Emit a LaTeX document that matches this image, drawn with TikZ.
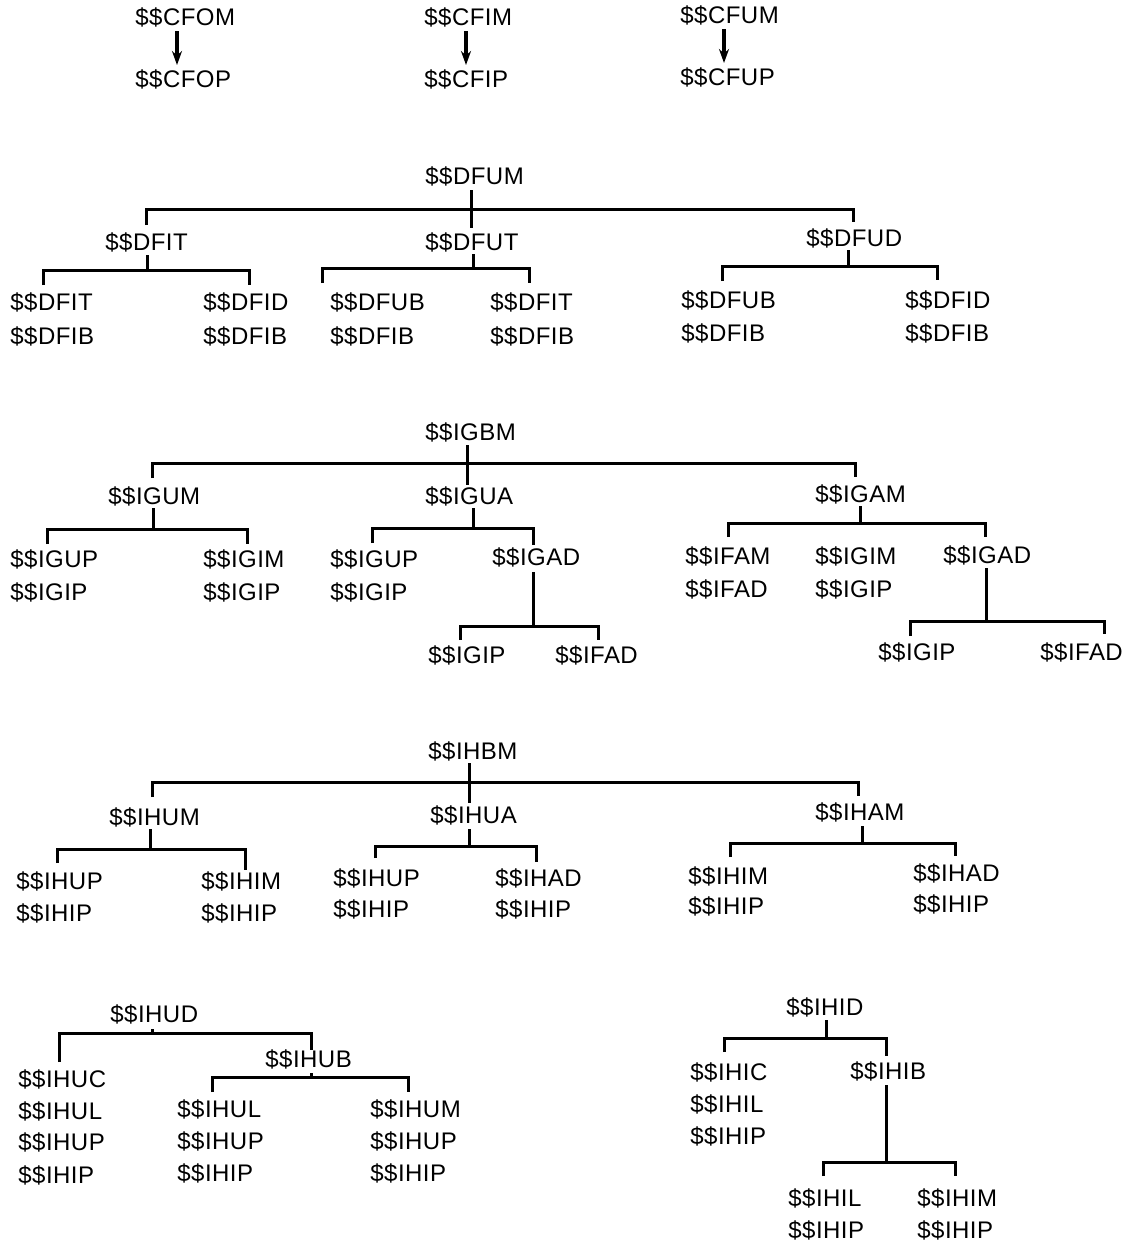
\documentclass[tikz,border=0pt]{standalone}
\usepackage{fontspec}
\setmainfont{Liberation Sans}[LetterSpace=2]
\usetikzlibrary{arrows.meta}
\begin{document}
\begin{tikzpicture}[x=0.5pt,y=-0.5pt,
  lbl/.style={anchor=west,inner sep=0pt,text height=8.6pt,text depth=0pt,
              font=\fontsize{12pt}{14pt}\selectfont},
  tree/.style={line width=1.5pt,line cap=butt,line join=miter},
  arr/.style={line width=1.6pt,-{Stealth[length=7pt,width=5pt]}}]
\useasboundingbox (0,0) rectangle (1137,1243);

% ---- call pairs ----
\node[lbl] (cfom) at (135,17) {\$\$CFOM};
\node[lbl] (cfop) at (135,79) {\$\$CFOP};
\node[lbl] (cfim) at (424,17) {\$\$CFIM};
\node[lbl] (cfip) at (424,79) {\$\$CFIP};
\node[lbl] (cfum) at (680,15) {\$\$CFUM};
\node[lbl] (cfup) at (680,77) {\$\$CFUP};
\draw[arr] (177,31) -- (177,65);
\draw[arr] (466,31) -- (466,65);
\draw[arr] (724,29) -- (724,63);

% ---- $$DFUM ----
\node[lbl] (dfum) at (425,176) {\$\$DFUM};
\node[lbl] (dfit) at (105,242) {\$\$DFIT};
\node[lbl] (dfut) at (425,242) {\$\$DFUT};
\node[lbl] (dfud) at (806,238) {\$\$DFUD};
\node[lbl] (d1a) at (10,302) {\$\$DFIT};
\node[lbl] (d1b) at (10,336) {\$\$DFIB};
\node[lbl] (d2a) at (203,302) {\$\$DFID};
\node[lbl] (d2b) at (203,336) {\$\$DFIB};
\node[lbl] (d3a) at (330,302) {\$\$DFUB};
\node[lbl] (d3b) at (330,336) {\$\$DFIB};
\node[lbl] (d4a) at (490,302) {\$\$DFIT};
\node[lbl] (d4b) at (490,336) {\$\$DFIB};
\node[lbl] (d5a) at (681,300) {\$\$DFUB};
\node[lbl] (d5b) at (681,333) {\$\$DFIB};
\node[lbl] (d6a) at (905,300) {\$\$DFID};
\node[lbl] (d6b) at (905,333) {\$\$DFIB};
\draw[tree] (471,190) -- (471,228);
\draw[tree] (146,225) |- (853,209) -- (853,222);
\draw[tree] (147,255) -- (147,270);
\draw[tree] (43,285) |- (249,270) -- (249,285);
\draw[tree] (473,254) -- (473,268);
\draw[tree] (322,283) |- (529,268) -- (529,283);
\draw[tree] (848,250) -- (848,266);
\draw[tree] (722,281) |- (937,266) -- (937,280);

% ---- $$IGBM ----
\node[lbl] (igbm) at (425,432) {\$\$IGBM};
\node[lbl] (igum) at (108,496) {\$\$IGUM};
\node[lbl] (igua) at (425,496) {\$\$IGUA};
\node[lbl] (igam) at (815,494) {\$\$IGAM};
\node[lbl] (g1a) at (10,559) {\$\$IGUP};
\node[lbl] (g1b) at (10,592) {\$\$IGIP};
\node[lbl] (g2a) at (203,559) {\$\$IGIM};
\node[lbl] (g2b) at (203,592) {\$\$IGIP};
\node[lbl] (g3a) at (330,559) {\$\$IGUP};
\node[lbl] (g3b) at (330,592) {\$\$IGIP};
\node[lbl] (igad) at (492,557) {\$\$IGAD};
\node[lbl] (g4) at (428,655) {\$\$IGIP};
\node[lbl] (g5) at (555,655) {\$\$IFAD};
\node[lbl] (g6a) at (685,556) {\$\$IFAM};
\node[lbl] (g6b) at (685,589) {\$\$IFAD};
\node[lbl] (g7a) at (815,556) {\$\$IGIM};
\node[lbl] (g7b) at (815,589) {\$\$IGIP};
\node[lbl] (igadb) at (943,555) {\$\$IGAD};
\node[lbl] (g8) at (878,652) {\$\$IGIP};
\node[lbl] (g9) at (1040,652) {\$\$IFAD};
\draw[tree] (467,445) -- (467,485);
\draw[tree] (152,478) |- (855,463) -- (855,477);
\draw[tree] (153,508) -- (153,529);
\draw[tree] (47,544) |- (247,529) -- (247,544);
\draw[tree] (473,508) -- (473,528);
\draw[tree] (372,543) |- (533,528) -- (533,545);
\draw[tree] (533,572) -- (533,626);
\draw[tree] (460,640) |- (598,626) -- (598,640);
\draw[tree] (860,506) -- (860,523);
\draw[tree] (728,537) |- (985,523) -- (985,537);
\draw[tree] (986,568) -- (986,621);
\draw[tree] (910,636) |- (1104,621) -- (1104,634);

% ---- $$IHBM ----
\node[lbl] (ihbm) at (428,751) {\$\$IHBM};
\node[lbl] (ihum) at (109,817) {\$\$IHUM};
\node[lbl] (ihua) at (430,815) {\$\$IHUA};
\node[lbl] (iham) at (815,812) {\$\$IHAM};
\node[lbl] (h1a) at (16,881) {\$\$IHUP};
\node[lbl] (h1b) at (16,913) {\$\$IHIP};
\node[lbl] (h2a) at (201,881) {\$\$IHIM};
\node[lbl] (h2b) at (201,913) {\$\$IHIP};
\node[lbl] (h3a) at (333,878) {\$\$IHUP};
\node[lbl] (h3b) at (333,909) {\$\$IHIP};
\node[lbl] (h4a) at (495,878) {\$\$IHAD};
\node[lbl] (h4b) at (495,909) {\$\$IHIP};
\node[lbl] (h5a) at (688,876) {\$\$IHIM};
\node[lbl] (h5b) at (688,906) {\$\$IHIP};
\node[lbl] (h6a) at (913,873) {\$\$IHAD};
\node[lbl] (h6b) at (913,904) {\$\$IHIP};
\draw[tree] (469,763) -- (469,803);
\draw[tree] (152,797) |- (858,782) -- (858,796);
\draw[tree] (150,829) -- (150,849);
\draw[tree] (57,863) |- (245,849) -- (245,870);
\draw[tree] (469,829) -- (469,846);
\draw[tree] (375,858) |- (536,846) -- (536,862);
\draw[tree] (862,826) -- (862,843);
\draw[tree] (730,857) |- (955,843) -- (955,856);

% ---- $$IHUD ----
\node[lbl] (ihud) at (110,1014) {\$\$IHUD};
\node[lbl] (ihub) at (265,1059) {\$\$IHUB};
\node[lbl] (u1a) at (18,1079) {\$\$IHUC};
\node[lbl] (u1b) at (18,1111) {\$\$IHUL};
\node[lbl] (u1c) at (18,1142) {\$\$IHUP};
\node[lbl] (u1d) at (18,1175) {\$\$IHIP};
\node[lbl] (u2a) at (177,1109) {\$\$IHUL};
\node[lbl] (u2b) at (177,1141) {\$\$IHUP};
\node[lbl] (u2c) at (177,1173) {\$\$IHIP};
\node[lbl] (u3a) at (370,1109) {\$\$IHUM};
\node[lbl] (u3b) at (370,1141) {\$\$IHUP};
\node[lbl] (u3c) at (370,1173) {\$\$IHIP};
\draw[tree] (152,1029) -- (152,1033);
\draw[tree] (59,1062) |- (311,1033) -- (311,1050);
\draw[tree] (311,1073) -- (311,1077);
\draw[tree] (212,1092) |- (408,1077) -- (408,1092);

% ---- $$IHID ----
\node[lbl] (ihid) at (786,1007) {\$\$IHID};
\node[lbl] (i1a) at (690,1072) {\$\$IHIC};
\node[lbl] (i1b) at (690,1104) {\$\$IHIL};
\node[lbl] (i1c) at (690,1136) {\$\$IHIP};
\node[lbl] (ihib) at (850,1071) {\$\$IHIB};
\node[lbl] (i2a) at (788,1198) {\$\$IHIL};
\node[lbl] (i2b) at (788,1230) {\$\$IHIP};
\node[lbl] (i3a) at (917,1198) {\$\$IHIM};
\node[lbl] (i3b) at (917,1230) {\$\$IHIP};
\draw[tree] (826,1020) -- (826,1038);
\draw[tree] (724,1052) |- (886,1038) -- (886,1056);
\draw[tree] (886,1085) -- (886,1162);
\draw[tree] (823,1176) |- (955,1162) -- (955,1176);
\end{tikzpicture}
\end{document}
